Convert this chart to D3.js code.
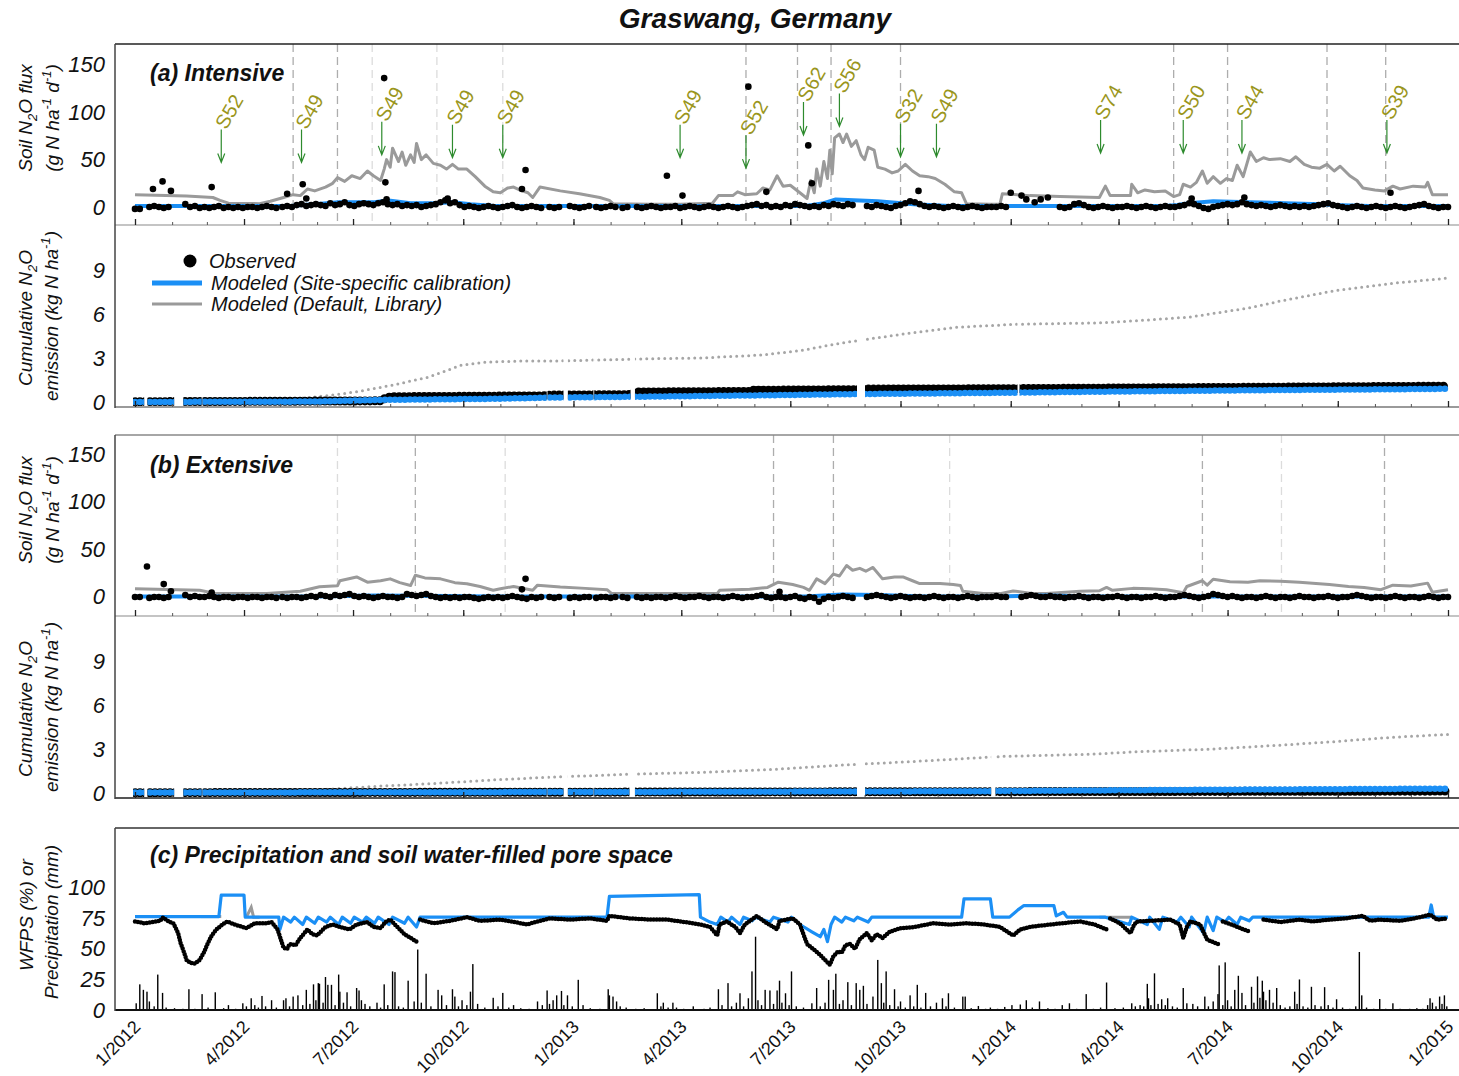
<!DOCTYPE html>
<html>
<head>
<meta charset="utf-8">
<script src="https://cdn.jsdelivr.net/npm/d3@7"></script>
<style>
  body { margin: 0; background: #fff; }
  svg { display: block; }
</style>
</head>
<body>
<svg id="chart" width="1459" height="1076"></svg>
<script>
// ---------------------------------------------------------------------------
// Data. Days are counted from 1 January 2012 (day 0) to 1 January 2015 (day 1096).
// ---------------------------------------------------------------------------
const quarterTicks  = ["2012-01-01","2012-04-01","2012-07-01","2012-10-01","2013-01-01","2013-04-01",
                       "2013-07-01","2013-10-01","2014-01-01","2014-04-01","2014-07-01","2014-10-01","2015-01-01"];
const quarterLabels = ["1/2012","4/2012","7/2012","10/2012","1/2013","4/2013",
                       "7/2013","10/2013","1/2014","4/2014","7/2014","10/2014","1/2015"];

const fluxTicks = [0, 50, 100, 150];
const cumTicks  = [0, 3, 6, 9];
const wfpsTicks = [0, 25, 50, 75, 100];

// Management events (days): fertilizer applications with slurry labels, cuts
const arrowDays   = [72, 139, 206, 265, 307, 455, 510, 558, 588, 639, 669, 806, 875, 924, 1045];
const arrowLabels = ["S52","S49","S49","S49","S49","S49","S52","S62","S56","S32","S49","S74","S50","S44","S39"];
const arrowTips   = [47, 47, 55, 52, 52, 52, 41, 76, 85, 53, 53, 57, 57, 57, 57];   // flux units

const eventsA      = [132, 169, 510, 553, 581, 639, 867, 912, 995, 1044];
const eventsAFaint = [198, 252, 307];
const eventsB      = [234, 533, 583, 891, 1043];
const eventsBFaint = [169, 309, 680, 957];

// (a) Intensive – daily N2O flux, modeled with default (library) parameters
const fluxDefaultA = [[0,13],[43,11.5],[65,10],[71,7],[78,4],[104,3.5],[113,6],[124,10],[132,13],[138,12],[144,19],
  [150,17],[159,21],[165,25],[169,31],[175,27],[181,33],[188,30],[194,38],[199,33],[205,28],[208,40],[210,50],
  [213,42],[215,62],[220,48],[223,58],[226,44],[230,55],[233,47],[235,67],[239,50],[243,55],[249,46],[255,44],
  [260,40],[265,45],[270,40],[277,40],[284,32],[292,22],[299,16],[305,15],[311,20],[316,21],[321,18],[328,15],
  [332,10],[338,21],[355,17],[371,14],[388,10],[396,7],[399,3.5],[430,3],[455,3],[482,4],[487,12],[499,12],
  [503,16],[509,13],[519,14],[524,20],[530,18],[536,33],[541,22],[547,23],[555,15],[561,9],[564,28],[567,15],
  [569,40],[572,22],[575,48],[578,30],[580,60],[582,35],[584,73],[588,77],[591,68],[594,77],[598,64],[602,70],
  [606,55],[609,50],[612,63],[617,60],[620,42],[626,40],[632,36],[637,38],[643,45],[649,38],[655,33],[662,32],
  [668,30],[676,24],[684,16],[690,15],[694,3.5],[714,3],[722,3],[724,14],[747,12],[772,11],[805,10],[810,22],
  [814,12],[831,12],[832,24],[837,15],[843,18],[851,16],[860,17],[867,11],[872,13],[875,24],[881,21],[886,26],
  [891,38],[895,25],[900,32],[906,25],[911,30],[916,28],[920,44],[925,32],[931,58],[936,48],[942,52],[947,50],
  [956,51],[964,48],[969,53],[976,45],[982,42],[989,41],[995,45],[1001,38],[1006,43],[1014,33],[1020,28],
  [1025,20],[1035,18],[1043,17],[1050,22],[1056,19],[1067,22],[1077,21],[1079,26],[1083,13],[1096,13]];

// (a) Intensive – modeled with site-specific calibration
const fluxCalibA = [[0,1],[130,1],[140,2],[150,3],[170,5],[200,5],[210,7],[230,4],[250,4],[265,5],[280,3],[300,1],
  [560,1],[575,4],[585,8],[600,7],[620,6],[650,3],[680,1],[860,1],[870,2],[880,4],[900,6],[930,5],[960,4],
  [990,3],[1000,2],[1030,1],[1096,1]];

// (a) Intensive – observed flux: measurement runs [first day, values every 4th day]
const obsFluxA = [
  [0,   [-2,-2]],
  [12,  [0,1,0,-1,0]],
  [42,  [3,0,1,-1]],
  [58,  [0,-1,0,1,-1,0,-1,0,-1,0,0,-1,0,1,0,-1]],
  [123, [0,1,0,2,3,1,2,3,2,1,4,2,3,5,2,1,3,4,3,2,4,5,3,2,3,1,2,1,2,0,1,2,3,5,7,4,5,2,0,1,0,-1,0,1,0,-1,0,1,2,0,-1,0,1,0,-1]],
  [346, [0,-1,0]],
  [363, [1,0,-1,0,1]],
  [385, [0,-1,0,1,0]],
  [407, [-1,0]],
  [419, [0,-1,0,1,0,-1,0,0,1,-1,0,1,0,-1,0,1,0,-1,0,1,0,-1,0,1,2,3,1,2,0,1,0,2,1,3,2,1,0,1,0,2,1,3,2,1,3,2]],
  [611, [1,0,2,1,0,-1,1,2,4,6,5,3,1,0,1,0,-1,0,1,0,-1,0,1,0,-1,0]],
  [715, [0,0,1,0]],
  [772, [0,-1,0,3,4,2,0,-1,0,1,0,-1,0,0,1,0,-1,0,1,0,-1,0,1,0,0,1,2,4,3,1,-1,-2,0,1,2,3,2,3,5,3,2,1,2,1,0,1,2,1,0,1,0,1,0,1,2,3,4,2,1,0,-1,0,1,0,-1,0,1,0,-1,0,1,0,-1,0,1,2,3,1,0,-1,0,0]]
];
const obsPeaksA = [[15,19],[23,27],[30,17],[64,21],[127,14],[140,24],[143,9],[208,136],[209,26],[210,8],[261,9],
  [323,19],[326,39],[444,33],[457,12],[512,127],[527,16],[562,65],[565,25],[654,17],[731,15],[740,12],[744,8],
  [751,5],[756,8],[762,10],[882,9],[926,10],[1048,15]];

// (a) Intensive – cumulative emission (kg N ha-1)
const cumDefaultA = [[0,0.05],[96,0.1],[126,0.2],[141,0.27],[163,0.45],[185,0.7],[215,1.15],[245,1.7],[272,2.5],
  [290,2.7],[321,2.8],[352,2.8],[430,2.95],[472,3.0],[522,3.2],[555,3.5],[588,4.0],[613,4.3],[647,4.7],[686,5.1],
  [735,5.3],[807,5.4],[847,5.6],[881,5.8],[929,6.4],[957,6.9],[1002,7.6],[1050,8.1],[1096,8.45]];
const cumObsA = [[0,0.02],[120,0.05],[205,0.08],[210,0.3],[215,0.36],[342,0.42],[346,0.47],[412,0.5],[419,0.68],
  [512,0.72],[516,0.8],[601,0.84],[611,0.88],[713,0.9],[772,0.93],[929,1.0],[1096,1.08]];
const cumCalibA = [[0,0.0],[150,0.03],[210,0.15],[300,0.22],[346,0.3],[419,0.36],[516,0.45],[611,0.55],[713,0.62],
  [800,0.7],[929,0.8],[1096,0.9]];
const sampledA = [[0,6],[12,31],[42,54],[58,121],[123,342],[346,356],[363,381],[385,404],[407,412],[419,601],
  [611,713],[715,735],[740,769],[772,1096]];

// (b) Extensive – daily N2O flux
const fluxDefaultB = [[0,8.6],[54,7],[68,3.5],[110,3.5],[138,6],[154,10.7],[169,11.7],[171,17],[185,21],[194,15.5],
  [205,17],[213,19],[221,15],[230,12],[234,22.7],[242,20],[255,19],[267,15],[277,13.8],[288,11],[299,7],[305,8.6],
  [316,11],[332,7],[336,12.4],[355,10.5],[376,9],[394,7.6],[398,3.5],[486,3.5],[488,7],[513,8],[528,10],
  [537,15.5],[549,13],[558,10],[563,7],[569,19],[576,14],[583,24],[588,22],[594,33],[599,28],[605,30],[610,27],
  [616,31],[624,19],[634,21],[641,21],[649,17],[655,14],[672,14],[683,13],[689,12],[691,6],[708,3.5],[722,3.5],
  [733,6.3],[747,4],[761,3.5],[789,6],[805,6.5],[811,10],[816,7],[833,9],[847,8.5],[861,7.6],[875,4.5],[878,11],
  [891,17],[895,12.4],[900,18.6],[914,16],[929,15.5],[939,17],[956,16.6],[972,15.5],[983,14.5],[997,13],
  [1013,11],[1026,10],[1040,7.6],[1050,12.4],[1065,11.4],[1079,14.5],[1083,5],[1096,7.6]];
const fluxCalibB = [[0,0.5],[150,0.5],[200,1.5],[260,1],[300,0.5],[560,0.5],[590,2.5],[620,2],[660,0.5],[720,0.5],
  [760,1.5],[800,0.5],[1096,0.5]];
const obsFluxB = [
  [0,   [0,0]],
  [12,  [-1,0,0,-1,0]],
  [42,  [2,0,1,0]],
  [58,  [0,1,0,-1,0,0,-1,0,0,-1,0,0,-1,0,0,-1]],
  [123, [0,-1,0,0,-1,0,1,0,2,1,0,2,1,2,3,1,0,1,0,-1,0,1,0,0,-1,0,3,2,1,2,3,1,0,-1,0,-1,0,-1,0,0,-1,-2,-1,0,-1,0,-1,0,1,0,-1,-2,0,-1,0]],
  [346, [0,-1,0]],
  [363, [-1,0,-1,0,0]],
  [385, [-1,0,0,-1,0]],
  [407, [0,-1]],
  [419, [0,-1,0,-1,0,0,-1,0,1,0,-1,0,0,1,0,-1,0,0,-1,0,1,0,-1,0,0,1,2,0,-1,0,0,-1,0,1,-1,-2,0,-1,-5,-2,0,-1,0,1,0,-1]],
  [611, [0,1,2,1,0,-1,0,1,0,-1,0,0,-1,0,1,0,-1,0,0,-1,0,1,0,-1,0,0]],
  [715, [0,1,0,0]],
  [740, [0,1,2,1,0,0,1,0]],
  [772, [0,-1,0,0,1,0,-1,0,0,-1,0,0,1,0,-1,0,0,-1,0,0,1,0,-1,0,0,1,2,1,0,-1,0,1,3,2,1,0,1,0,-1,0,0,-1,0,1,0,-1,0,0,-1,0,1,0,0,-1,0,0,1,0,-1,0,0,1,2,1,0,-1,0,0,-1,0,1,0,-1,0,0,-1,0,1,0,-1,0,0]]
];
const obsPeaksB = [[10,32],[24,13.5],[30,6],[64,4.5],[323,8],[326,19],[538,5.5]];

const cumDefaultB = [[0,0.05],[100,0.1],[150,0.2],[200,0.45],[250,0.65],[300,0.9],[352,1.1],[420,1.3],[470,1.4],
  [530,1.6],[590,1.9],[613,2.0],[650,2.15],[725,2.5],[800,2.65],[832,2.8],[900,3.0],[957,3.27],[1000,3.5],
  [1050,3.8],[1096,4.0]];
const cumObsB   = [[0,0.02],[300,0.05],[600,0.08],[1096,0.13]];
const cumCalibB = [[0,0.03],[400,0.07],[700,0.12],[850,0.2],[1096,0.3]];
const sampledB = [[0,6],[12,31],[42,54],[58,121],[123,342],[346,356],[363,381],[385,411],[419,601],[611,713],[720,1096]];

// (c) Precipitation (mm d-1)
const precip = [[1,5.5],[4,21],[7,16.5],[10,15],[12,7],[16,3],[19,29],[23,14],[26,2],[33,1.5],[40,1],[45,17],[50,1],
  [56,13],[61,2],[67,14.5],[74,1.5],[78,4],[84,1],[90,5.5],[93,3],[97,9.6],[100,4],[103,2],[106,11.5],[109,3],[114,8],
  [118,2],[124,8],[126,9.6],[129,3],[132,11],[136,12],[140,4],[143,16.5],[146,5],[149,21],[151,8],[153,22],[154,21.5],
  [157,6],[159,27],[161,20.6],[164,20.6],[167,4],[170,29],[171,15],[174,6],[177,14.5],[180,3],[185,18],[187,16],
  [189,8],[192,5],[196,3],[202,6],[205,2],[208,21],[211,4],[215,31.6],[217,31],[220,3],[224,2],[228,24],[233,7],
  [236,49.5],[239,6],[243,29.7],[247,3],[253,16.5],[256,12],[260,4],[265,17],[267,11],[270,3],[273,8],[277,4],
  [280,15],[282,37.6],[286,5],[292,2],[299,10],[303,3],[307,14],[312,2],[316,4],[322,1.5],[329,1],[336,7],[340,4],
  [344,16],[346,5],[349,8],[352,12],[356,15.6],[358,4],[361,12],[365,3],[370,24.7],[374,4],[380,1.5],[388,1],
  [395,17],[396,12],[399,11],[402,7],[405,3],[410,2],[418,1],[425,1.5],[436,13.7],[439,3],[441,6],[445,2],[449,6],
  [452,2],[458,1],[466,3],[475,1],[480,2],[487,17],[490,4],[495,22],[498,3],[502,6],[505,13.7],[508,3],[512,9.6],
  [515,31.6],[518,60],[520,8],[523,4],[526,16.5],[530,16],[533,5],[536,16],[538,24],[540,6],[543,13.7],[546,4],
  [548,31.6],[552,3],[558,2],[565,5.5],[569,18],[572,3],[576,6],[579,24.7],[583,16.5],[585,29.7],[588,5],[591,8],
  [595,22.8],[598,4],[602,22],[605,16.5],[608,19.8],[611,5],[616,11],[620,41],[623,22],[625,6],[627,31.6],[630,4],
  [634,17],[637,3],[639,7],[643,2],[647,12],[650,3],[653,20.6],[656,2],[660,14],[664,3],[669,6],[674,9.6],[677,3],
  [679,13.7],[684,2],[691,11],[693,11],[698,1.5],[704,3.3],[710,1],[714,2],[720,1],[726,2.5],[732,4],[739,4.5],
  [744,8],[749,2],[755,7],[762,1.5],[768,1],[774,4],[780,5.5],[786,1],[794,13],[800,1],[806,2],[811,22.5],[818,1.5],
  [825,2],[832,5.5],[835,3],[839,4],[842,3],[845,21.4],[846,9.6],[848,4],[851,30],[854,5],[857,8.8],[860,4],
  [862,9.6],[866,3],[870,2],[875,18],[878,5.5],[883,5],[887,3],[893,11],[896,3],[900,7],[904,13],[905,36.5],
  [908,4],[910,39],[912,8],[915,3],[918,16.5],[921,28],[924,14],[927,4],[932,19],[934,6],[937,27.5],[939,10],
  [941,24],[942,15],[944,8],[947,16.5],[950,6],[953,18],[956,4],[960,2],[964,3],[968,15],[970,5],[972,25],[975,3],
  [979,2],[982,19],[985,4],[990,3],[993,18.7],[996,4],[1000,2],[1003,8.8],[1008,2],[1014,1],[1019,3],[1022,47.5],
  [1024,12],[1028,2],[1034,1],[1039,9],[1044,1],[1050,5.5],[1056,1],[1064,1],[1070,1.5],[1075,1],[1079,4],
  [1081,9.6],[1083,6],[1086,3],[1089,11],[1091,5],[1093,12],[1095,3]];

// (c) Soil water-filled pore space (%)
const wfpsCalib = [[0,76.5],[70,76.5],[72,94],[91,94],[92,76],[120,76],[121,66],[124,76],[130,72],[133,76],[140,70],
  [143,76],[150,71],[153,76],[160,72],[163,76],[170,70],[173,76],[180,71],[183,76],[190,72],[193,76],[200,71],
  [203,76],[212,70],[215,76],[225,71],[228,76],[235,68],[238,76],[394,76],[396,93],[471,94.5],[472,76],[480,72],
  [486,70],[489,76],[495,72],[498,76],[505,70],[508,76],[515,73],[518,76],[530,72],[533,76],[545,72],[548,76],
  [555,70],[565,64],[572,60],[575,66],[578,56],[581,70],[584,76],[590,72],[593,76],[600,73],[603,76],[612,72],
  [615,76],[690,76],[692,91],[714,91],[716,76],[730,76],[737,82],[742,85.5],[767,85.5],[769,77],[775,80],[778,76],
  [810,76],[830,70],[832,76],[845,70],[847,76],[855,66],[858,76],[870,72],[873,76],[880,68],[882,76],[892,63],
  [895,76],[900,65],[903,76],[910,72],[913,76],[920,70],[923,76],[930,73],[933,76],[1080,76],[1082,86],[1084,76],
  [1096,76]];
// default-parameter WFPS, shown where it departs from the calibrated run
const wfpsDefault = [
  [[55,76.5],[72,76.5]],
  [[93,76],[97,84],[99,76],[104,76]],
  [[805,76],[832,76]]
];
const wfpsObs = [
  [[0,72.5],[8,71],[21,73],[23,75.7],[29,72],[32,71],[36,63],[38,55],[41,47],[43,41],[46,38.6],[50,38],[54,41],
   [58,48],[60,53],[64,61],[68,66],[73,70],[77,72.5],[83,70],[93,67],[100,71],[110,71],[114,72],[119,66],[121,60],
   [124,51],[127,50],[129,54],[134,53],[138,59],[144,66],[148,62],[152,61],[159,68],[165,70],[171,68],[179,66],
   [185,70],[194,72],[199,68],[205,67],[209,72],[213,74],[217,70],[221,66],[225,62],[230,59],[235,56]],
  [[238,74],[249,71],[263,73],[277,76],[288,73],[305,74],[317,72],[327,70],[338,73],[346,75],[363,74],[380,75],
   [394,73],[396,77],[413,75],[430,74],[444,74],[459,72],[472,70],[480,68],[486,61],[488,70],[494,72.5],[501,68],
   [505,63],[509,70],[519,77],[526,72],[536,66],[538,73],[549,75],[555,70],[561,54],[566,50],[572,45],[577,40],
   [580,37],[583,44],[587,48],[590,47],[593,53],[597,54],[601,50],[605,58],[611,63],[615,57],[619,62],[624,59],
   [630,64],[639,67],[651,68],[666,71],[680,70],[694,71],[709,70],[722,68],[733,61],[739,66],[747,68],[764,70],
   [789,72.5],[801,70],[811,66]],
  [[814,75],[822,71],[831,63],[834,70],[837,72.5],[847,73],[864,74],[872,70],[875,59],[878,68],[881,72.5],[889,70],
   [895,57.5],[899,56],[904,54]],
  [[908,72.5],[918,69],[925,66],[931,64]],
  [[942,74],[956,72],[972,74],[983,72.5],[997,74],[1010,75],[1025,77],[1031,73],[1039,74],[1056,73],[1068,75],
   [1081,78],[1087,74],[1095,75]]
];

// ---------------------------------------------------------------------------
// Layout and scales
// ---------------------------------------------------------------------------
const FONT = "'Liberation Sans', Arial, Helvetica, sans-serif";
const BLUE = "#1b8ff5", GRAY = "#9a9a9a";
const LEFT = 115, RIGHT = 1459;

const parse = d3.timeParse("%Y-%m-%d");
const START = parse("2012-01-01"), END = parse("2015-01-01");
const quarterDates = quarterTicks.map(parse);
const monthDates = d3.timeMonth.range(START, d3.timeDay.offset(END, 1));

const x = d3.scaleTime().domain([START, END]).range([135, 1448]);
const X = d => x(d3.timeDay.offset(START, d));

const svg = d3.select("#chart");

const P = {
  fluxA: { top: 44,  bottom: 225,  y: d3.scaleLinear().domain([-19, 172]).range([225, 44]) },
  cumA:  { top: 225, bottom: 407,  y: d3.scaleLinear().domain([-0.34, 12.07]).range([407, 225]) },
  fluxB: { top: 435, bottom: 616,  y: d3.scaleLinear().domain([-20, 170]).range([616, 435]) },
  cumB:  { top: 616, bottom: 798,  y: d3.scaleLinear().domain([-0.34, 12.07]).range([798, 616]) },
  wfps:  { top: 828, bottom: 1010, y: d3.scaleLinear().domain([0, 149]).range([1010, 828]) }
};

const defs = svg.append("defs");
function clipRect(id, p) {
  defs.append("clipPath").attr("id", id).append("rect")
    .attr("x", LEFT).attr("y", p.top).attr("width", RIGHT - LEFT).attr("height", p.bottom - p.top);
}
Object.entries(P).forEach(([k, p]) => clipRect("clip-" + k, p));

// measurement periods: cumulative sums are only shown on sampled days
function sampledClip(id, p, runs) {
  const cp = defs.append("clipPath").attr("id", id);
  cp.selectAll("rect").data(runs).join("rect")
    .attr("x", r => X(r[0]) - 2).attr("width", r => X(r[1]) - X(r[0]) + 4)
    .attr("y", p.top).attr("height", p.bottom - p.top);
}
sampledClip("samp-a", P.cumA, sampledA);
sampledClip("samp-b", P.cumB, sampledB);

// ---------------------------------------------------------------------------
// Helpers
// ---------------------------------------------------------------------------
function yAxis(p, ticks) {
  const g = svg.append("g").attr("transform", `translate(${LEFT},0)`)
    .call(d3.axisLeft(p.y).tickValues(ticks).tickSize(0).tickPadding(10));
  g.select(".domain").remove();
  g.selectAll("text").attr("font-family", FONT).attr("font-size", 22)
    .attr("font-style", "italic").attr("fill", "#111");
}

function timeTicks(yPos) {
  const minor = svg.append("g").attr("transform", `translate(0,${yPos})`)
    .call(d3.axisTop(x).tickValues(monthDates).tickSize(3).tickSizeOuter(0).tickFormat(""));
  minor.select(".domain").remove();
  minor.selectAll("line").attr("stroke", "#555");
  const major = svg.append("g").attr("transform", `translate(0,${yPos})`)
    .call(d3.axisTop(x).tickValues(quarterDates).tickSize(6).tickSizeOuter(0).tickFormat(""));
  major.select(".domain").remove();
  major.selectAll("line").attr("stroke", "#222").attr("stroke-width", 1.3);
}

function hline(y, color, w) {
  svg.append("line").attr("x1", LEFT).attr("x2", RIGHT).attr("y1", y).attr("y2", y)
    .attr("stroke", color).attr("stroke-width", w);
}
function vline(y1, y2) {
  svg.append("line").attr("x1", LEFT).attr("x2", LEFT).attr("y1", y1).attr("y2", y2)
    .attr("stroke", "#444").attr("stroke-width", 1.5);
}

function rotatedTitle(cx, cy, parts) {
  const t = svg.append("text").attr("transform", `translate(${cx},${cy}) rotate(-90)`)
    .attr("text-anchor", "middle").attr("font-family", FONT).attr("font-size", 19)
    .attr("font-style", "italic").attr("fill", "#111");
  parts.forEach(([s, kind]) => {
    const ts = t.append("tspan").text(s);
    if (kind === "sub") ts.attr("font-size", 13).attr("dy", 5);
    else if (kind === "sup") ts.attr("font-size", 13).attr("dy", -8);
    else if (kind === "after-sub") ts.attr("dy", -5);
    else if (kind === "after-sup") ts.attr("dy", 8);
  });
}

function panelLabel(px, py, s) {
  svg.append("text").attr("x", px).attr("y", py).text(s)
    .attr("font-family", FONT).attr("font-size", 23).attr("font-weight", "bold")
    .attr("font-style", "italic").attr("fill", "#111");
}

function eventLines(p, days, color) {
  svg.append("g").selectAll("line").data(days).join("line")
    .attr("x1", d => X(d)).attr("x2", d => X(d)).attr("y1", p.top).attr("y2", p.bottom)
    .attr("stroke", color).attr("stroke-width", 1.3).attr("stroke-dasharray", "8 5");
}

function fluxPanel(p, key, defaultData, calibData, runs, peaks) {
  const line = d3.line().x(d => X(d[0])).y(d => p.y(d[1]));
  const g = svg.append("g").attr("clip-path", `url(#clip-${key})`);
  g.append("path").datum(defaultData).attr("d", line).attr("fill", "none")
    .attr("stroke", GRAY).attr("stroke-width", 3).attr("stroke-linejoin", "round");
  g.append("path").datum(calibData).attr("d", line).attr("fill", "none")
    .attr("stroke", BLUE).attr("stroke-width", 4).attr("stroke-linejoin", "round");
  const obs = runs.flatMap(([s, vals]) => vals.map((v, i) => [s + 4 * i, v])).concat(peaks);
  g.selectAll("circle.obs").data(obs).join("circle").attr("class", "obs")
    .attr("cx", d => X(d[0])).attr("cy", d => p.y(d[1])).attr("r", 3.3).attr("fill", "#000");
}

function cumPanel(p, key, sampId, defaultData, obsData, calibData) {
  const line = d3.line().x(d => X(d[0])).y(d => p.y(d[1]));
  const g = svg.append("g").attr("clip-path", `url(#clip-${key})`);
  const s = g.append("g").attr("clip-path", `url(#${sampId})`);
  s.append("path").datum(defaultData).attr("d", line).attr("fill", "none")
    .attr("stroke", "#a6a6a6").attr("stroke-width", 3).attr("stroke-linecap", "round")
    .attr("stroke-dasharray", "0 6");
  s.append("path").datum(obsData).attr("d", line).attr("fill", "none")
    .attr("stroke", "#000").attr("stroke-width", 9).attr("stroke-linecap", "round")
    .attr("stroke-dasharray", "0 5");
  s.append("path").datum(calibData).attr("d", line).attr("fill", "none")
    .attr("stroke", BLUE).attr("stroke-width", 6.5).attr("stroke-linecap", "round")
    .attr("stroke-dasharray", "0 5");
}

// ---------------------------------------------------------------------------
// Title
// ---------------------------------------------------------------------------
svg.append("text").attr("x", 755).attr("y", 28).attr("text-anchor", "middle")
  .attr("font-family", FONT).attr("font-size", 28).attr("font-weight", "bold")
  .attr("font-style", "italic").attr("fill", "#111").text("Graswang, Germany");

// ---------------------------------------------------------------------------
// (a) Intensive
// ---------------------------------------------------------------------------
eventLines(P.fluxA, eventsAFaint, "#dcdcdc");
eventLines(P.fluxA, eventsA, "#adadad");
fluxPanel(P.fluxA, "fluxA", fluxDefaultA, fluxCalibA, obsFluxA, obsPeaksA);
cumPanel(P.cumA, "cumA", "samp-a", cumDefaultA, cumObsA, cumCalibA);

// fertilizer arrows
const arrows = arrowDays.map((d, i) => ({ d, label: arrowLabels[i], tip: arrowTips[i] }));
const ag = svg.append("g");
arrows.forEach(a => {
  const ax = X(a.d), ty = P.fluxA.y(a.tip), top = ty - 33;
  ag.append("path")
    .attr("d", `M${ax},${top}L${ax},${ty}M${ax - 3.5},${ty - 9}L${ax},${ty}L${ax + 3.5},${ty - 9}`)
    .attr("fill", "none").attr("stroke", "#2e8b2e").attr("stroke-width", 1.2);
  ag.append("text").attr("transform", `translate(${ax + 5},${top + 1}) rotate(-60)`)
    .attr("font-family", FONT).attr("font-size", 20).attr("fill", "#9a961c").text(a.label);
});

// frame (a)
hline(44, "#222", 1.5);
hline(225, "#b0b0b0", 1.5);
hline(407, "#9a9a9a", 2);
vline(44, 408);
timeTicks(225);
timeTicks(407);
yAxis(P.fluxA, fluxTicks);
yAxis(P.cumA, cumTicks);
panelLabel(150, 81, "(a) Intensive");

// legend
const lg = svg.append("g").attr("font-family", FONT).attr("font-size", 20).attr("font-style", "italic").attr("fill", "#111");
lg.append("circle").attr("cx", 190).attr("cy", 261).attr("r", 6.5).attr("fill", "#000");
lg.append("text").attr("x", 209).attr("y", 268).text("Observed");
lg.append("line").attr("x1", 152).attr("x2", 202).attr("y1", 283).attr("y2", 283).attr("stroke", BLUE).attr("stroke-width", 5);
lg.append("text").attr("x", 211).attr("y", 290).text("Modeled (Site-specific calibration)");
lg.append("line").attr("x1", 152).attr("x2", 202).attr("y1", 304).attr("y2", 304).attr("stroke", GRAY).attr("stroke-width", 3);
lg.append("text").attr("x", 211).attr("y", 311).text("Modeled (Default, Library)");

// ---------------------------------------------------------------------------
// (b) Extensive
// ---------------------------------------------------------------------------
eventLines(P.fluxB, eventsBFaint, "#dcdcdc");
eventLines(P.fluxB, eventsB, "#adadad");
fluxPanel(P.fluxB, "fluxB", fluxDefaultB, fluxCalibB, obsFluxB, obsPeaksB);
cumPanel(P.cumB, "cumB", "samp-b", cumDefaultB, cumObsB, cumCalibB);
hline(435, "#888", 1.5);
hline(616, "#b0b0b0", 1.5);
hline(798, "#555", 2);
vline(435, 799);
timeTicks(616);
timeTicks(798);
yAxis(P.fluxB, fluxTicks);
yAxis(P.cumB, cumTicks);
panelLabel(150, 473, "(b) Extensive");

// ---------------------------------------------------------------------------
// (c) Precipitation and WFPS
// ---------------------------------------------------------------------------
const pc = P.wfps;
const gc = svg.append("g").attr("clip-path", "url(#clip-wfps)");
gc.selectAll("rect").data(precip).join("rect")
  .attr("x", d => X(d[0]) - 0.7).attr("width", 1.4)
  .attr("y", d => pc.y(d[1])).attr("height", d => pc.y(0) - pc.y(d[1])).attr("fill", "#000");
const wline = d3.line().x(d => X(d[0])).y(d => pc.y(d[1]));
gc.selectAll("path.def").data(wfpsDefault).join("path").attr("class", "def")
  .attr("d", wline).attr("fill", "none").attr("stroke", GRAY).attr("stroke-width", 3);
gc.append("path").datum(wfpsCalib).attr("d", wline).attr("fill", "none")
  .attr("stroke", BLUE).attr("stroke-width", 3.2).attr("stroke-linejoin", "round");
gc.selectAll("path.obs").data(wfpsObs).join("path").attr("class", "obs")
  .attr("d", wline).attr("fill", "none").attr("stroke", "#000").attr("stroke-width", 4.5)
  .attr("stroke-linecap", "round").attr("stroke-dasharray", "0 3");

hline(828, "#333", 1.5);
hline(1010, "#111", 2);
vline(828, 1011);
yAxis(pc, wfpsTicks);
panelLabel(150, 863, "(c) Precipitation and soil water-filled pore space");

const xa = svg.append("g").attr("transform", `translate(0,1010)`)
  .call(d3.axisBottom(x).tickValues(quarterDates).tickSize(0).tickFormat((d, i) => quarterLabels[i]));
xa.select(".domain").remove();
xa.selectAll("text").attr("x", 0).attr("y", 0).attr("dy", 0)
  .attr("transform", "translate(6,18) rotate(-45)").attr("text-anchor", "end")
  .attr("font-family", FONT).attr("font-size", 18).attr("fill", "#111");

// ---------------------------------------------------------------------------
// Axis titles
// ---------------------------------------------------------------------------
rotatedTitle(32, 118, [["Soil N"], ["2", "sub"], ["O flux", "after-sub"]]);
rotatedTitle(59, 118, [["(g N ha"], ["-1", "sup"], [" d", "after-sup"], ["-1", "sup"], [")", "after-sup"]]);
rotatedTitle(32, 318, [["Cumulative N"], ["2", "sub"], ["O", "after-sub"]]);
rotatedTitle(58, 316, [["emission (kg N ha"], ["-1", "sup"], [")", "after-sup"]]);
rotatedTitle(32, 510, [["Soil N"], ["2", "sub"], ["O flux", "after-sub"]]);
rotatedTitle(59, 510, [["(g N ha"], ["-1", "sup"], [" d", "after-sup"], ["-1", "sup"], [")", "after-sup"]]);
rotatedTitle(32, 709, [["Cumulative N"], ["2", "sub"], ["O", "after-sub"]]);
rotatedTitle(58, 707, [["emission (kg N ha"], ["-1", "sup"], [")", "after-sup"]]);
rotatedTitle(33, 915, [["WFPS (%) or"]]);
rotatedTitle(58, 922, [["Precipitation (mm)"]]);
</script>
</body>
</html>
